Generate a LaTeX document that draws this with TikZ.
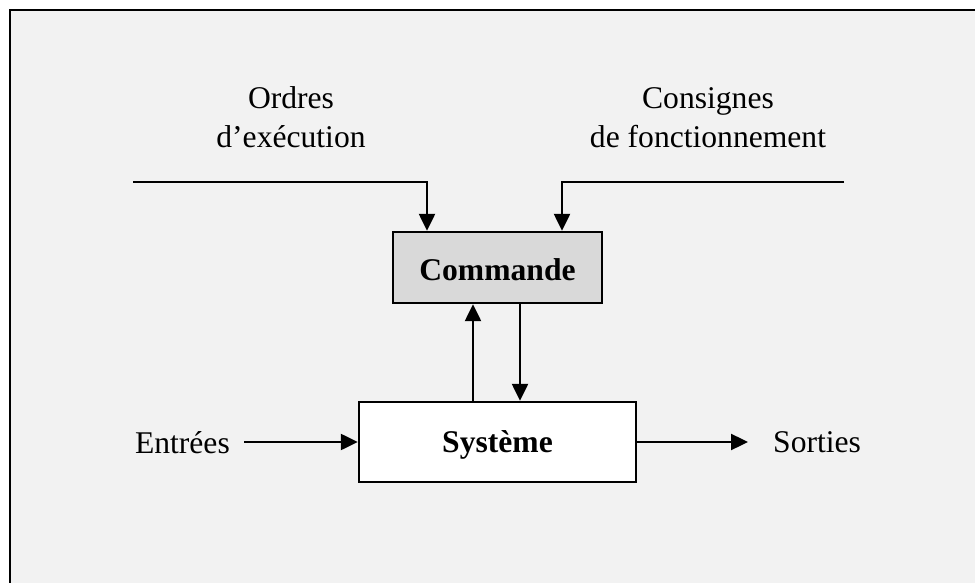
\documentclass[tikz,border=0pt]{standalone}
\usepackage{fontspec}
\setmainfont{Liberation Serif}
\usetikzlibrary{arrows.meta}
\begin{document}
\begin{tikzpicture}[x=1pt,y=-1pt,
  every node/.style={font=\fontsize{31.6}{39}\selectfont},
  label/.style={inner sep=0pt,align=center},
  block/.style={draw=black,line width=2.4pt,inner sep=0pt,text depth=0pt,
    font=\fontsize{31.6}{39}\selectfont\bfseries},
  flow/.style={line width=2.4pt,-{Triangle[length=17pt,width=16pt]}}]
  % page and panel
  \useasboundingbox (0,0) rectangle (975,583);
  \fill[white] (0,0) rectangle (975,583);
  \fill[fill={rgb,255:red,242;green,242;blue,242}] (10,10) rectangle (976,584);
  \draw[line width=2.6pt,line cap=rect] (10,584) -- (10,10) -- (976,10);

  % blocks
  \node[block,fill={rgb,255:red,217;green,217;blue,217},minimum width=209pt,minimum height=71pt,
    text height=25pt] (cmd) at (497.5,267.5) {Commande};
  \node[block,fill=white,minimum width=277pt,minimum height=80pt,
    text height=20pt] (sys) at (497.5,442) {Système};

  % labels
  \node[label,anchor=base] (ord) at (291,148) {Ordres\\d’exécution};
  \node[label,anchor=base] (cons) at (708,148) {Consignes\\de fonctionnement};
  \node[label,anchor=base east] (ent) at (230,453) {Entrées};
  \node[label,anchor=base west] (sor) at (773,452) {Sorties};

  % incoming setpoint lines
  \coordinate (ol) at (133,182);
  \coordinate (cr) at (844,182);
  \draw[flow] (ol) -| ([xshift=-70.5pt]cmd.north);
  \draw[flow] (cr) -| ([xshift=64.5pt]cmd.north);

  % loop between command and system
  \draw[flow] ([xshift=-24.5pt]sys.north) -- ([xshift=-24.5pt]cmd.south);
  \draw[flow] ([xshift=22.5pt]cmd.south) -- ([xshift=22.5pt]sys.north);

  % inputs and outputs
  \draw[flow] ([xshift=14pt]ent.east |- sys.west) -- (sys.west);
  \draw[flow] (sys.east) -- ([xshift=-25pt]sor.west |- sys.east);
\end{tikzpicture}
\end{document}
